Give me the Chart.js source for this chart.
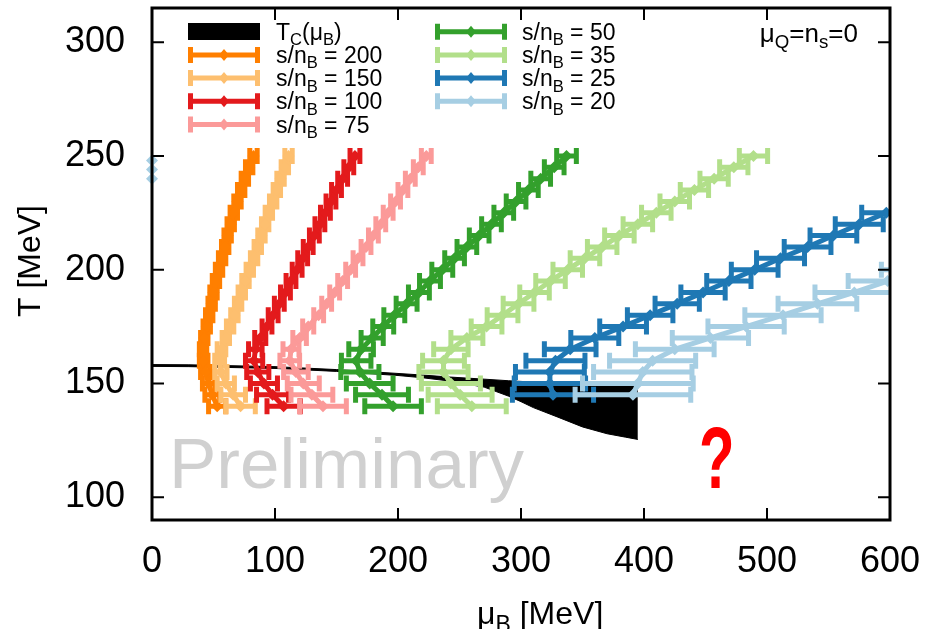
<!DOCTYPE html>
<html lang="en">
<head>
<meta charset="UTF-8">
<title>Isentropic trajectories</title>
<script src="https://cdn.jsdelivr.net/npm/chart.js"></script>
<style>
  html, body { margin: 0; padding: 0; background: #fff; }
  #wrap { width: 928px; height: 629px; }
</style>
</head>
<body>
<div id="wrap"><canvas id="phaseChart" width="928" height="629"></canvas></div>
<script>
// temperatures of the points [MeV]
const tempLong = [140, 145, 150, 155, 160, 165, 170, 175, 180, 185, 190, 195, 200, 205, 210, 215, 220, 225, 230, 235, 240, 245, 250];
const temp25 = [145, 150, 155, 160, 165, 170, 175, 180, 185, 190, 195, 200, 205, 210, 215, 220, 225];
const temp20 = [145, 150, 155, 160, 165, 170, 175, 180, 185, 190, 195, 200];

// muB centre values and half widths of the x error bars [MeV]
const mu200 = [53, 49, 46, 43.5, 42, 41.5, 42.5, 44.5, 46.5, 48.5, 50, 52, 54.5, 57, 59.5, 61.5, 64, 66.5, 69.5, 72.5, 75.5, 79, 82.5];
const err200 = [7, 6, 5, 4, 3.5, 3, 3, 3, 3, 3, 3, 3, 3, 3, 3, 3, 3, 3, 3, 3, 3, 3, 3];
const mu150 = [72, 66, 60, 56, 55, 56.5, 60, 63.5, 67, 70, 73, 76, 79.5, 83, 86, 89, 92, 95, 98.5, 101.5, 104.5, 108, 111];
const err150 = [12, 10, 7, 5, 4, 3.5, 3, 3, 3, 3, 3, 3, 3, 3, 3, 3, 3, 3, 3, 3, 3, 3, 3];
const mu100 = [107, 98, 91, 86, 83, 84, 88, 93.5, 98.5, 103.5, 108.5, 113, 118, 122.5, 127, 132, 136.5, 141, 145.5, 150, 155, 160, 165];
const err100 = [13.5, 13, 11, 9, 7, 5.5, 4.5, 4, 4, 4, 4, 4, 4, 4, 4, 4, 4, 4, 4, 4, 4, 4, 4];
const mu75 = [139, 130, 123, 117, 112, 113, 120, 127, 135.5, 142, 148.5, 155, 161.5, 167.5, 174, 180, 186, 192, 198, 204, 210, 216.5, 223];
const err75 = [19, 17, 13, 10, 8, 6.5, 5.5, 4.5, 4, 4, 4, 4, 4, 4, 4, 4, 4, 4, 4, 4, 4, 4, 4];
const mu50 = [196, 187, 177, 169, 166, 170, 179, 188, 197, 207, 217, 226, 236, 246, 256, 266, 276, 286, 296, 306, 316, 327, 337];
const err50 = [23, 21.5, 19, 15.5, 12, 10, 9, 8.5, 8.5, 8.5, 8.5, 8.5, 8.5, 8, 8, 8, 8, 8, 8, 8, 8, 8, 8];
const mu35 = [260, 250.5, 243, 237, 237, 243, 256, 272, 285, 298, 311, 324, 338, 352, 366, 380, 395, 410, 425, 441, 457, 473, 489];
const err35 = [28, 26, 24, 20, 17, 14, 13, 12.5, 12.5, 12.5, 12, 12, 12, 12, 12, 12, 12, 12, 12, 11.5, 11.5, 11.5, 11.5];
const mu25 = [326, 323.5, 323.5, 328, 340, 360, 383, 405, 427, 448, 469, 490, 511, 533, 554, 575, 597];
const err25 = [33, 29, 28, 24, 21, 19.5, 19, 18.5, 18, 18, 18, 19, 19.5, 19, 19, 19.5, 20];
const mu20 = [391, 395, 399, 407, 425, 454, 483, 513, 541, 571, 598, 625];
const err20 = [47, 45, 40, 35, 32, 31, 31, 31, 32, 32, 32, 32];

// stray s/nB=20 points sitting on the left border
const strayMu = [0, 0, 0];
const strayT = [240, 244, 248];

// crossover band Tc(muB)
const tcMu = [0, 30, 100, 150, 200, 220, 240, 270, 290, 300, 310, 330, 350, 370, 385, 395];
const tcUpper = [158.3, 158.2, 157.4, 156.1, 154.4, 153.7, 152.9, 151.9, 151.2, 150.9, 150.6, 150.1, 149.7, 149.4, 149.2, 149.0];
const tcLower = [157.5, 157.4, 156.6, 155.3, 153.5, 152.5, 151.2, 148.4, 144.4, 142, 139.4, 135.2, 130.9, 127.9, 126.4, 125.4];

const xTicks = [0, 100, 200, 300, 400, 500, 600];
const yTicks = [100, 150, 200, 250, 300];

const FONT = '"Liberation Sans", Arial, Helvetica, sans-serif';
const LW = 5;     // line / error bar width
const CAP = 8;    // half height of error bar caps

const series = [
    { label: '200', color: '#ff7f00', T: tempLong, mu: mu200, err: err200 },
    { label: '150', color: '#fdbf6f', T: tempLong, mu: mu150, err: err150 },
    { label: '100', color: '#e31a1c', T: tempLong, mu: mu100, err: err100 },
    { label: '75', color: '#fb9a99', T: tempLong, mu: mu75, err: err75 },
    { label: '50', color: '#33a02c', T: tempLong, mu: mu50, err: err50 },
    { label: '35', color: '#b2df8a', T: tempLong, mu: mu35, err: err35 },
    { label: '25', color: '#1f78b4', T: temp25, mu: mu25, err: err25 },
    { label: '20', color: '#a6cee3', T: temp20, mu: mu20, err: err20 }
];

const datasets = [
    {
        label: 'Tc upper',
        data: tcMu.map((m, i) => ({ x: m, y: tcUpper[i] })),
        borderColor: '#000', backgroundColor: '#000', borderWidth: 1,
        pointRadius: 0, showLine: true, fill: '+1', order: 20
    },
    {
        label: 'Tc lower',
        data: tcMu.map((m, i) => ({ x: m, y: tcLower[i] })),
        borderColor: '#000', borderWidth: 1,
        pointRadius: 0, showLine: true, fill: false, order: 19
    }
];
series.forEach((s, i) => {
    datasets.push({
        label: 's/nB = ' + s.label,
        data: s.T.map((t, j) => ({ x: s.mu[j], y: t })),
        xerr: s.err,
        borderColor: s.color,
        backgroundColor: s.color,
        borderWidth: LW,
        showLine: true,
        pointStyle: 'rectRot',
        pointRadius: 6,
        pointBorderWidth: 0,
        pointBackgroundColor: s.color,
        order: 10 - i
    });
});
datasets.push({
    label: 'stray',
    data: strayMu.map((m, i) => ({ x: m, y: strayT[i] })),
    backgroundColor: '#a6cee3', pointBackgroundColor: '#a6cee3',
    pointStyle: 'rectRot', pointRadius: 6, pointBorderWidth: 0,
    showLine: false, clip: false, order: 1
});

// text with subscripts, parts = [{t, sub}]
function richText(ctx, parts, x, y, size) {
    parts.forEach(p => {
        const s = p.sub ? size * 0.72 : size;
        ctx.font = s + 'px ' + FONT;
        ctx.fillText(p.t, x, y + (p.sub ? size * 0.24 : 0));
        x += ctx.measureText(p.t).width;
    });
    return x;
}
function richWidth(ctx, parts, size) {
    let w = 0;
    parts.forEach(p => {
        ctx.font = (p.sub ? size * 0.72 : size) + 'px ' + FONT;
        w += ctx.measureText(p.t).width;
    });
    return w;
}

const errorBars = {
    id: 'errorBars',
    beforeDatasetDraw(chart, args) {
        const ds = chart.data.datasets[args.index];
        if (!ds.xerr) return;
        const { ctx, chartArea: a, scales: { x, y } } = chart;
        ctx.save();
        ctx.beginPath();
        ctx.rect(a.left, a.top, a.right - a.left, a.bottom - a.top);
        ctx.clip();
        ctx.strokeStyle = ds.borderColor;
        ctx.lineWidth = LW;
        ds.data.forEach((p, i) => {
            const e = ds.xerr[i];
            const x0 = x.getPixelForValue(p.x - e);
            const x1 = x.getPixelForValue(p.x + e);
            const py = y.getPixelForValue(p.y);
            ctx.beginPath();
            ctx.moveTo(x0, py); ctx.lineTo(x1, py);
            ctx.moveTo(x0, py - CAP); ctx.lineTo(x0, py + CAP);
            ctx.moveTo(x1, py - CAP); ctx.lineTo(x1, py + CAP);
            ctx.stroke();
        });
        ctx.restore();
    }
};

const decorations = {
    id: 'decorations',
    beforeDatasetsDraw(chart) {
        const ctx = chart.ctx;
        ctx.save();
        ctx.fillStyle = '#d0d0d0';
        ctx.font = '71px ' + FONT;
        ctx.textBaseline = 'alphabetic';
        ctx.fillText('Preliminary', 169, 488);
        ctx.restore();
    },
    afterDatasetsDraw(chart) {
        const { ctx, chartArea: a, scales: { x, y } } = chart;
        ctx.save();
        // inward ticks on all sides
        ctx.strokeStyle = '#000';
        ctx.lineWidth = 2;
        ctx.beginPath();
        xTicks.forEach(v => {
            const px = x.getPixelForValue(v);
            ctx.moveTo(px, a.bottom); ctx.lineTo(px, a.bottom - 12);
            ctx.moveTo(px, a.top); ctx.lineTo(px, a.top + 12);
        });
        yTicks.forEach(v => {
            const py = y.getPixelForValue(v);
            ctx.moveTo(a.left, py); ctx.lineTo(a.left + 12, py);
            ctx.moveTo(a.right, py); ctx.lineTo(a.right - 12, py);
        });
        ctx.stroke();
        // frame
        ctx.lineWidth = 3;
        ctx.strokeRect(a.left, a.top, a.right - a.left, a.bottom - a.top);
        ctx.restore();
    },
    afterDraw(chart) {
        const ctx = chart.ctx;
        ctx.save();
        ctx.fillStyle = '#000';
        ctx.textBaseline = 'alphabetic';

        // legend
        const rowY = r => 31.7 + r * 23.2;
        ctx.fillRect(188, 23, 72, 17);
        richText(ctx, [{ t: 'T' }, { t: 'C', sub: true }, { t: '(\u03bc' }, { t: 'B', sub: true }, { t: ')' }], 276, rowY(0) + 8, 23);
        series.forEach((s, i) => {
            const col = i < 4 ? 0 : 1;
            const row = i < 4 ? i + 1 : i - 4;
            const y0 = rowY(row);
            const x0 = col === 0 ? 188 : 435;
            const x1 = x0 + 72;
            ctx.strokeStyle = s.color;
            ctx.lineWidth = LW;
            ctx.beginPath();
            ctx.moveTo(x0, y0); ctx.lineTo(x1, y0);
            ctx.moveTo(x0 + 2.5, y0 - CAP); ctx.lineTo(x0 + 2.5, y0 + CAP);
            ctx.moveTo(x1 - 2.5, y0 - CAP); ctx.lineTo(x1 - 2.5, y0 + CAP);
            ctx.stroke();
            const cx = (x0 + x1) / 2;
            ctx.fillStyle = s.color;
            ctx.beginPath();
            ctx.moveTo(cx, y0 - 6); ctx.lineTo(cx + 5, y0); ctx.lineTo(cx, y0 + 6); ctx.lineTo(cx - 5, y0);
            ctx.closePath();
            ctx.fill();
            ctx.fillStyle = '#000';
            richText(ctx, [{ t: 's/n' }, { t: 'B', sub: true }, { t: ' = ' + s.label }], col === 0 ? 276 : 522, y0 + 8, 23);
        });

        // condition label, right aligned
        const cond = [{ t: '\u03bc' }, { t: 'Q', sub: true }, { t: '=n' }, { t: 's', sub: true }, { t: '=0' }];
        richText(ctx, cond, 858 - richWidth(ctx, cond, 26), 42, 26);

        // axis titles
        richText(ctx, [{ t: '\u03bc' }, { t: 'B', sub: true }, { t: ' [MeV]' }], 477, 624, 32);
        ctx.save();
        ctx.translate(31, 261);
        ctx.rotate(-Math.PI / 2);
        ctx.font = '32px ' + FONT;
        ctx.textAlign = 'center';
        ctx.textBaseline = 'middle';
        ctx.fillText('T [MeV]', 0, 0);
        ctx.restore();

        // red question mark
        ctx.save();
        ctx.translate(699, 488);
        ctx.scale(0.66, 1);
        ctx.fillStyle = '#ff0000';
        ctx.font = 'bold 88px ' + FONT;
        ctx.fillText('?', 0, 0);
        ctx.restore();

        ctx.restore();
    }
};

const tickFont = { family: FONT, size: 36 };

new Chart(document.getElementById('phaseChart'), {
    type: 'scatter',
    data: { datasets: datasets },
    options: {
        responsive: false,
        animation: false,
        devicePixelRatio: 1,
        layout: { padding: { top: 8, right: 38, left: 0, bottom: 0 } },
        elements: { line: { tension: 0 } },
        plugins: { legend: { display: false }, tooltip: { enabled: false } },
        scales: {
            x: {
                type: 'linear', min: 0, max: 600,
                grid: { display: false }, border: { display: false },
                afterBuildTicks: s => { s.ticks = xTicks.map(v => ({ value: v })); },
                afterFit: s => { s.height = 109; s.paddingLeft = 0; s.paddingRight = 0; },
                ticks: { font: tickFont, color: '#000', padding: 12, maxRotation: 0, autoSkip: false }
            },
            y: {
                type: 'linear', min: 90, max: 315,
                grid: { display: false }, border: { display: false },
                afterBuildTicks: s => { s.ticks = yTicks.map(v => ({ value: v })); },
                afterFit: s => { s.width = 152; s.paddingTop = 0; s.paddingBottom = 0; },
                ticks: { font: tickFont, color: '#000', padding: 19, autoSkip: false }
            }
        }
    },
    plugins: [errorBars, decorations]
});
</script>
</body>
</html>
